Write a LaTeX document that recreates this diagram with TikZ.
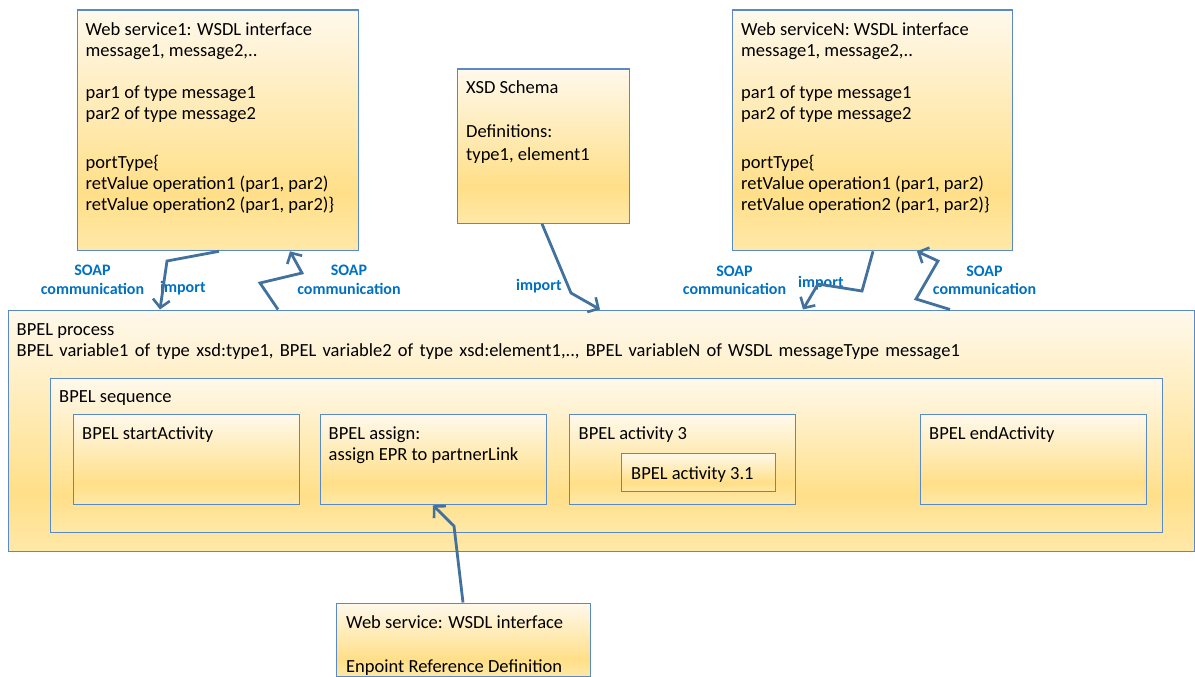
\documentclass[tikz,border=0pt]{standalone}
\usepackage{fontspec}
\setmainfont{Carlito}
\usetikzlibrary{arrows.meta}
\definecolor{offT}{HTML}{FFF9EC}
\definecolor{offM}{HTML}{FFDF88}
\definecolor{offB}{HTML}{FFE8A8}
\definecolor{boxline}{HTML}{5A8AC6}
\definecolor{connc}{HTML}{41719C}
\definecolor{lblc}{HTML}{0070C0}
\pgfdeclareverticalshading{office}{100bp}{color(0bp)=(offB); color(25bp)=(offB); color(37bp)=(offM); color(75bp)=(offT); color(100bp)=(offT)}
\tikzset{
  box/.style={draw=boxline, line width=1.3pt, shading=office, inner sep=0pt, anchor=north west},
  txt/.style={inner sep=0pt, anchor=base west, font=\fontsize{18.5}{21}\selectfont, text=black},
  lbl/.style={inner sep=0pt, anchor=base, font=\fontsize{16}{19}\selectfont\bfseries, text=lblc},
  lblw/.style={lbl, anchor=base west},
  conn/.style={draw=connc, line width=2.8pt, line join=miter, -{Straight Barb[length=8pt,width=17pt,line width=2.6pt]}}
}
\begin{document}
\begin{tikzpicture}[x=1pt,y=-1pt]
\useasboundingbox (0,0) rectangle (1195,677);
% boxes
\node[box, minimum width=281pt, minimum height=240.5pt] (ws1) at (77,9.5) {};
\node[box, minimum width=172pt, minimum height=154pt] (xsd) at (456.5,68.5) {};
\node[box, minimum width=280pt, minimum height=240.5pt] (wsn) at (732,9.5) {};
\node[box, minimum width=1186pt, minimum height=241pt] (proc) at (7.5,309.5) {};
\node[box, minimum width=1112pt, minimum height=154pt] (seq) at (50,377.5) {};
\node[box, minimum width=226.5pt, minimum height=90pt] (start) at (72.5,414) {};
\node[box, minimum width=226pt, minimum height=90pt] (assign) at (319.5,414) {};
\node[box, minimum width=226pt, minimum height=90pt] (act3) at (569,414) {};
\node[box, minimum width=154pt, minimum height=38.5pt] (act31) at (621,452.5) {};
\node[box, minimum width=226pt, minimum height=90pt] (endA) at (919.5,414) {};
\node[box, minimum width=254pt, minimum height=73.5pt] (epr) at (336,602.5) {};
% texts ws1
\node[txt] (w1a) at (85.5,36) {Web service1: WSDL interface};
\node[txt] (w1b) at (85.5,57) {message1, message2,..};
\node[txt] (w1c) at (85.5,99) {par1 of type message1};
\node[txt] (w1d) at (85.5,120) {par2 of type message2};
\node[txt] (w1e) at (85.5,168) {portType\{};
\node[txt] (w1f) at (85.5,189) {retValue operation1 (par1, par2)};
\node[txt] (w1g) at (85.5,210) {retValue operation2 (par1, par2)\}};
% texts wsn
\node[txt] (wna) at (741,36) {Web serviceN: WSDL interface};
\node[txt] (wnb) at (741,57) {message1, message2,..};
\node[txt] (wnc) at (741,99) {par1 of type message1};
\node[txt] (wnd) at (741,120) {par2 of type message2};
\node[txt] (wne) at (741,168) {portType\{};
\node[txt] (wnf) at (741,189) {retValue operation1 (par1, par2)};
\node[txt] (wng) at (741,210) {retValue operation2 (par1, par2)\}};
% xsd
\node[txt] (xa) at (466,94) {XSD Schema};
\node[txt] (xb) at (466,137) {Definitions:};
\node[txt] (xc) at (466,160) {type1, element1};
% process
\node[txt] (pa) at (16.5,335) {BPEL process};
\node[txt] (pb) at (16.5,356) {\spaceskip=6.3pt\relax BPEL variable1 of type xsd:type1, BPEL variable2 of type xsd:element1,.., BPEL variableN of WSDL messageType message1};
\node[txt] (sa) at (59,402) {BPEL sequence};
\node[txt] (sta) at (82,439) {BPEL startActivity};
\node[txt] (asa) at (328.5,439) {BPEL assign:};
\node[txt] (asb) at (328.5,460) {assign EPR to partnerLink};
\node[txt] (a3a) at (578.5,439) {BPEL activity 3};
\node[txt] (a31a) at (631,479) {BPEL activity 3.1};
\node[txt] (ena) at (929,439) {BPEL endActivity};
\node[txt] (epa) at (346,628) {Web service: WSDL interface};
\node[txt] (epb) at (346,672.5) {Enpoint Reference Definition};
% labels
\node[lbl] (l1a) at (92.5,275) {SOAP};
\node[lbl] (l1b) at (92.5,294) {communication};
\node[lblw] (l2) at (160,292) {import};
\node[lbl] (l3a) at (349,275) {SOAP};
\node[lbl] (l3b) at (349,294) {communication};
\node[lblw] (l4) at (516,290) {import};
\node[lbl] (l5a) at (734.5,276) {SOAP};
\node[lbl] (l5b) at (734.5,294) {communication};
\node[lblw] (l6) at (798,287) {import};
\node[lbl] (l7a) at (984.5,276) {SOAP};
\node[lbl] (l7b) at (984.5,294) {communication};
% connectors
\draw[conn] ([xshift=142pt]ws1.south west) -- (167,261) -- ([xshift=152.5pt]proc.north west);
\draw[conn] ([xshift=270.5pt]proc.north west) -- (260,283) -- (302,273) -- ([xshift=213pt]ws1.south west);
\draw[conn] ([xshift=85.5pt]xsd.south west) -- (571,293) -- ([xshift=592.5pt]proc.north west);
\draw[conn] ([xshift=141pt]wsn.south west) -- (862,291) -- (818,284) -- ([xshift=795.5pt]proc.north west);
\draw[conn] ([xshift=942.5pt]proc.north west) -- (916,299) -- (938,261) -- ([xshift=185pt]wsn.south west);
\draw[conn] ([xshift=127pt]epr.north west) -- (454,526) -- ([xshift=113.5pt]assign.south west);
\end{tikzpicture}
\end{document}
